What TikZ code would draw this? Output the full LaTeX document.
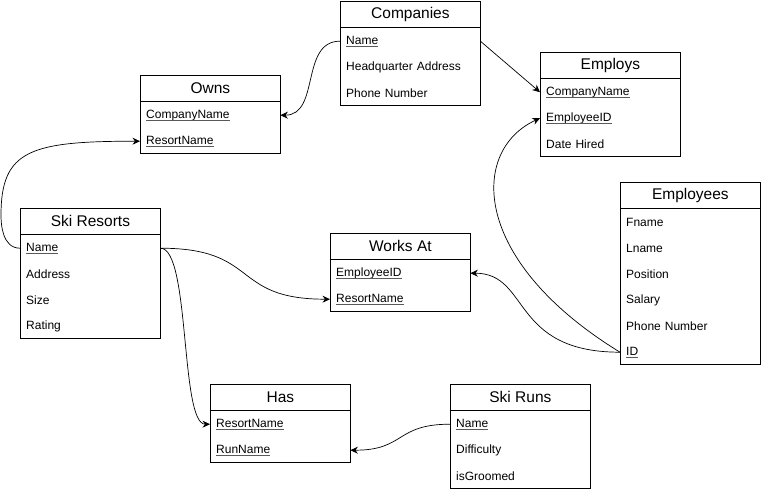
\documentclass[tikz,border=0pt]{standalone}
\usepackage{fontspec}
\setmainfont{Liberation Sans}
\usetikzlibrary{arrows.meta}
\newsavebox\keybox
\newcommand{\keyfld}[1]{\sbox\keybox{#1}\rlap{\usebox\keybox}{\color{black!65}\rule[-2.2pt]{\wd\keybox}{0.7pt}}}
\begin{document}
\begin{tikzpicture}[x=1pt,y=-1pt,
 hdr/.style={draw,line width=0.8pt,minimum width=140pt,minimum height=26pt,inner sep=0pt,font=\fontsize{15.5}{18}\selectfont,anchor=north west},
 fld/.style={minimum width=140pt,text width=128pt,inner xsep=6pt,inner ysep=0pt,minimum height=26pt,align=left,font=\fontsize{12}{14}\selectfont,anchor=north west,yshift=-1pt},
 outline/.style={draw,line width=0.8pt},
 conn/.style={line width=0.7pt,-{Stealth[length=7.5pt,width=7pt,inset=2.5pt]}}]
\useasboundingbox[fill=white] (0,0) rectangle (761,492);

% Companies
\node[hdr] (comp) at (340,1) {Companies};
\node[fld] (comp-name) at (340,27) {\keyfld{Name}};
\node[fld] (comp-hq) at (340,53) {Headquarter Address};
\node[fld] (comp-phone) at (340,79) {Phone Number};
\draw[outline] (comp.south west) rectangle ([yshift=1pt]comp-phone.south east);

% Owns
\node[hdr] (owns) at (140,75) {Owns};
\node[fld] (owns-cn) at (140,101) {\keyfld{CompanyName}};
\node[fld] (owns-rn) at (140,127) {\keyfld{ResortName}};
\draw[outline] (owns.south west) rectangle ([yshift=1pt]owns-rn.south east);

% Employs
\node[hdr] (emps) at (540,52) {Employs};
\node[fld] (emps-cn) at (540,78) {\keyfld{CompanyName}};
\node[fld] (emps-eid) at (540,104) {\keyfld{EmployeeID}};
\node[fld] (emps-date) at (540,130) {Date Hired};
\draw[outline] (emps.south west) rectangle ([yshift=1pt]emps-date.south east);

% Employees
\node[hdr] (emp) at (620,182) {Employees};
\node[fld] (emp-f) at (620,208) {Fname};
\node[fld] (emp-l) at (620,234) {Lname};
\node[fld] (emp-pos) at (620,260) {Position};
\node[fld] (emp-sal) at (620,286) {Salary};
\node[fld] (emp-ph) at (620,312) {Phone Number};
\node[fld] (emp-id) at (620,338) {\keyfld{ID}};
\draw[outline] (emp.south west) rectangle ([yshift=1pt]emp-id.south east);

% Ski Resorts
\node[hdr] (sr) at (20,208) {Ski Resorts};
\node[fld] (sr-name) at (20,234) {\keyfld{Name}};
\node[fld] (sr-addr) at (20,260) {Address};
\node[fld] (sr-size) at (20,286) {Size};
\node[fld] (sr-rate) at (20,312) {Rating};
\draw[outline] (sr.south west) rectangle ([yshift=1pt]sr-rate.south east);

% Works At
\node[hdr] (wa) at (330,233) {Works At};
\node[fld] (wa-eid) at (330,259) {\keyfld{EmployeeID}};
\node[fld] (wa-rn) at (330,285) {\keyfld{ResortName}};
\draw[outline] (wa.south west) rectangle ([yshift=1pt]wa-rn.south east);

% Has
\node[hdr] (has) at (210,384) {Has};
\node[fld] (has-rn) at (210,410) {\keyfld{ResortName}};
\node[fld] (has-run) at (210,436) {\keyfld{RunName}};
\draw[outline] (has.south west) rectangle ([yshift=1pt]has-run.south east);

% Ski Runs
\node[hdr] (runs) at (450,384) {Ski Runs};
\node[fld] (runs-name) at (450,410) {\keyfld{Name}};
\node[fld] (runs-diff) at (450,436) {Difficulty};
\node[fld] (runs-gr) at (450,462) {isGroomed};
\draw[outline] (runs.south west) rectangle ([yshift=1pt]runs-gr.south east);

% Connectors
\draw[conn] (comp-name.west) .. controls +(-40,0) and +(40,0) .. (owns-cn.east);
\draw[conn] (comp-name.east) -- (emps-cn.west);
\draw[conn] (sr-name.west) .. controls +(-18,0) and +(0,8) .. ++(-19,-33)
  .. controls +(0,-65) and +(-110,0) .. (owns-rn.west);
\draw[conn] (sr-name.east) .. controls +(100,0) and +(-100,0) .. (wa-rn.west);
\draw[conn] (sr-name.east) .. controls +(30,0) and +(-30,0) .. (has-rn.west);
\draw[conn] (runs-name.west) .. controls +(-55,0) and +(55,0) .. (has-run.east);
\draw[conn] (emp-id.west) .. controls +(-110,0) and +(60,0) .. (wa-eid.east);
\draw[conn] (emp-id.west) .. controls +(-150,-92) and +(-70,32) .. (emps-eid.west);
\end{tikzpicture}
\end{document}
